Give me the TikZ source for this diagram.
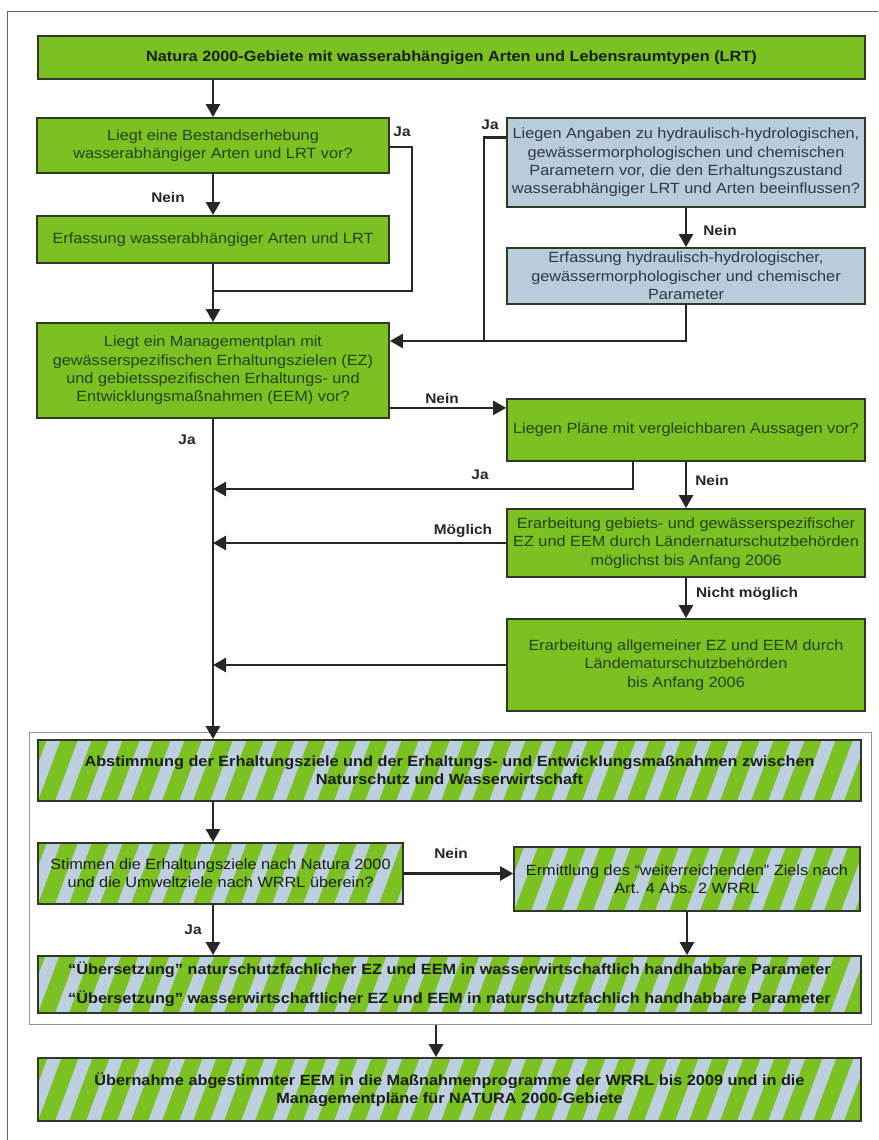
\documentclass[tikz,border=0pt]{standalone}
\usepackage{fontspec}
\setmainfont{Liberation Sans}[FakeStretch=1.1]
\usetikzlibrary{arrows.meta}

\definecolor{leafgreen}{RGB}{122,193,33}
\definecolor{paleblue}{RGB}{184,204,220}
\definecolor{stripeblue}{RGB}{190,207,224}
\definecolor{boxline}{RGB}{48,56,42}
\definecolor{linegray}{RGB}{38,38,38}
\definecolor{greentext}{RGB}{38,66,18}
\definecolor{bluetext}{RGB}{48,56,66}
\definecolor{stripetext}{RGB}{24,32,20}
\definecolor{framegray}{RGB}{150,150,150}

\tikzset{
  box/.style={draw=boxline, line width=1.8pt, align=center, inner sep=2pt,
    font=\fontsize{14.8}{18.3}\selectfont},
  greenbox/.style={box, fill=leafgreen, text=greentext},
  bluebox/.style={box, fill=paleblue, text=bluetext},
  stripebox/.style={box, fill=stripeblue, text=stripetext,
    font=\bfseries\fontsize{14.8}{18.3}\selectfont,
    path picture={
      \foreach \k in {-3,...,29}
        \fill[leafgreen] ([xshift=\k*31pt]path picture bounding box.south west)
          -- ++(17pt,0pt) -- ++(28pt,75pt) -- ++(-17pt,0pt) -- cycle;
    }},
  link/.style={line width=2.6pt, draw=linegray},
  arr/.style={link, -{Triangle[length=13pt,width=14pt]}},
  tag/.style={font=\bfseries\fontsize{14}{16}\selectfont, text=linegray, inner sep=1pt},
}

\begin{document}
\begin{tikzpicture}[x=1pt, y=-1pt]

  % page and outer frame
  \fill[white] (0,0) rectangle (878,1140);
  \useasboundingbox (0,0) rectangle (878,1140);
  \draw[line width=1pt, draw=black!60] (878,12) -- (7,12) -- (7,1140);

  % ---- Top: starting point ----
  \node[greenbox, minimum width=827, minimum height=43,
    font=\bfseries\fontsize{14.8}{18.3}\selectfont, text=stripetext] (top) at (451.5,57.5)
    {Natura 2000-Gebiete mit wasserabhängigen Arten und Lebensraumtypen (LRT)};

  % ---- Left column: species and habitat data ----
  \node[greenbox, minimum width=352, minimum height=55] (q1) at (213,145.5)
    {Liegt eine Bestandserhebung\\wasserabhängiger Arten und LRT vor?};
  \node[greenbox, minimum width=352, minimum height=47] (e1) at (213,239.5)
    {Erfassung wasserabhängiger Arten und LRT};

  % ---- Right column: hydrological parameters ----
  \node[bluebox, minimum width=358, minimum height=89] (b1) at (686,162.5)
    {Liegen Angaben zu hydraulisch-hydrologischen,\\gewässermorphologischen und chemischen\\Parametern vor, die den Erhaltungszustand\\wasserabhängiger LRT und Arten beeinflussen?};
  \node[bluebox, minimum width=358, minimum height=56] (b2) at (686,276)
    {Erfassung hydraulisch-hydrologischer,\\gewässermorphologischer und chemischer\\Parameter};

  % ---- Management plan and fallbacks ----
  \node[greenbox, minimum width=352, minimum height=95] (q2) at (213,370.5)
    {Liegt ein Managementplan mit\\gewässerspezifischen Erhaltungszielen (EZ)\\und gebietsspezifischen Erhaltungs- und\\Entwicklungsmaßnahmen (EEM) vor?};
  \node[greenbox, minimum width=358, minimum height=62] (q3) at (686,430)
    {Liegen Pläne mit vergleichbaren Aussagen vor?};
  \node[greenbox, minimum width=358, minimum height=68] (e2) at (686,543)
    {Erarbeitung gebiets- und gewässerspezifischer\\EZ und EEM durch Ländernaturschutzbehörden\\möglichst bis Anfang 2006};
  \node[greenbox, minimum width=358, minimum height=92] (e3) at (686,665)
    {Erarbeitung allgemeiner EZ und EEM durch\\Ländematurschutzbehörden\\bis Anfang 2006};

  % ---- Coordination block (framed) ----
  \node[draw=framegray, line width=1pt, minimum width=842, minimum height=292] (grp) at (450,878) {};
  \node[stripebox, minimum width=823, minimum height=61] (s1) at (449.5,770.5)
    {Abstimmung der Erhaltungsziele und der Erhaltungs- und Entwicklungsmaßnahmen zwischen\\Naturschutz und Wasserwirtschaft};
  \node[stripebox, minimum width=365, minimum height=61, font=\fontsize{14.8}{18.3}\selectfont] (s2) at (220.5,873.5)
    {Stimmen die Erhaltungsziele nach Natura 2000\\und die Umweltziele nach WRRL überein?};
  \node[stripebox, minimum width=346, minimum height=64, font=\fontsize{14.8}{18.3}\selectfont] (s3) at (687,879)
    {Ermittlung des “weiterreichenden” Ziels nach\\Art. 4 Abs. 2 WRRL};
  \node[stripebox, minimum width=823, minimum height=57] (s4) at (449.5,984.5)
    {“Übersetzung” naturschutzfachlicher EZ und EEM in wasserwirtschaftlich handhabbare Parameter\\[10.5pt]“Übersetzung” wasserwirtschaftlicher EZ und EEM in naturschutzfachlich handhabbare Parameter};

  % ---- Result ----
  \node[stripebox, minimum width=823, minimum height=63] (s5) at (449.5,1089.5)
    {Übernahme abgestimmter EEM in die Maßnahmenprogramme der WRRL bis 2009 und in die\\Managementpläne für NATURA 2000-Gebiete};

  % ---- Connectors, upper part ----
  \coordinate (j1) at (213,291);
  \coordinate (j2) at (484,341);
  \coordinate (j3) at (213,489);
  \draw[arr] (top.south -| q1.north) -- (q1.north);
  \draw[arr] (q1.south) -- (e1.north);
  \draw[link] ([yshift=-1.5pt]q1.east) -- ++(22,0) |- (j1);
  \draw[arr] (e1.south) -- (q2.north);
  \draw[arr] (b1.south) -- (b2.north);
  \draw[link] ([yshift=25pt]b1.west) -| (j2);
  \draw[link] (b2.south) |- (j2);
  \draw[arr] (j2) -- (j2 -| q2.east);

  % ---- Connectors, fallback chain back to the main line ----
  \draw[arr] ([yshift=11pt]q2.south east) -- ([yshift=11pt]q2.south east -| q3.west);
  \draw[arr] (q2.south) -- (q2.south |- s1.north);
  \draw[arr] ([xshift=-53pt]q3.south) |- (j3);
  \draw[arr] (q3.south) -- (e2.north);
  \draw[arr] (e2.west) -- (e2.west -| q2.south);
  \draw[arr] (e2.south) -- (e3.north);
  \draw[arr] (e3.west) -- (e3.west -| q2.south);

  % ---- Connectors, coordination block ----
  \draw[arr] (q2.south |- s1.south) -- (q2.south |- s2.north);
  \draw[arr] (s2.east) -- (s2.east -| s3.west);
  \draw[arr] (q2.south |- s2.south) -- (q2.south |- s4.north);
  \draw[arr] (s3.south) -- (s3.south |- s4.north);
  \draw[arr] ([xshift=-14pt]grp.south) -- ([xshift=-14pt]grp.south |- s5.north);

  % ---- Branch labels ----
  \node[tag] (tJa1)   at (402,132) {Ja};
  \node[tag] (tNein1) at (168,197) {Nein};
  \node[tag] (tJa2)   at (490,125) {Ja};
  \node[tag] (tNein2) at (720,230) {Nein};
  \node[tag] (tNein3) at (442,398) {Nein};
  \node[tag] (tJa3)   at (187,440) {Ja};
  \node[tag] (tJa4)   at (480,475) {Ja};
  \node[tag] (tNein4) at (712,480) {Nein};
  \node[tag] (tMgl)   at (463,531) {Möglich};
  \node[tag] (tNicht) at (747,594) {Nicht möglich};
  \node[tag] (tNein5) at (451,853) {Nein};
  \node[tag] (tJa5)   at (193,930) {Ja};

\end{tikzpicture}
\end{document}
